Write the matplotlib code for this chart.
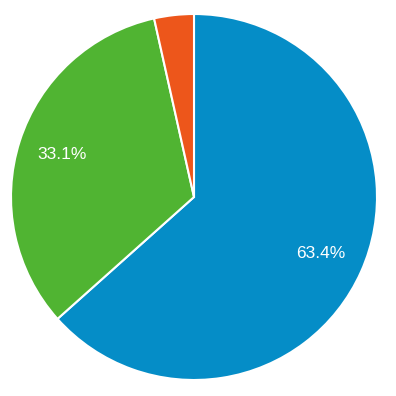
import matplotlib
matplotlib.use("Agg")
import matplotlib.pyplot as plt
import numpy as np

# Data
values = [63.4, 33.1, 3.5]
colors = ["#058DC7", "#50B432", "#ED561B"]
labels = ["63.4%", "33.1%", ""]

fig = plt.figure(figsize=(3.96, 3.96), dpi=100)
ax = fig.add_axes([11 / 396, 16 / 396, 366 / 396, 366 / 396])

wedges, texts = ax.pie(values, colors=colors, startangle=90, counterclock=False,
                       wedgeprops=dict(edgecolor="white", linewidth=1.5))

# percentage labels inside the big slices
for w, lab in zip(wedges, labels):
    ang = np.deg2rad((w.theta1 + w.theta2) / 2)
    if lab:
        ax.text(0.76 * np.cos(ang), 0.76 * np.sin(ang), lab, ha="center", va="center",
                color="white", fontsize=12.5, family="Liberation Sans")

ax.set_xlim(-1, 1)
ax.set_ylim(-1, 1)
ax.set_aspect("equal")
ax.axis("off")

fig.savefig("out.png", dpi=100)
